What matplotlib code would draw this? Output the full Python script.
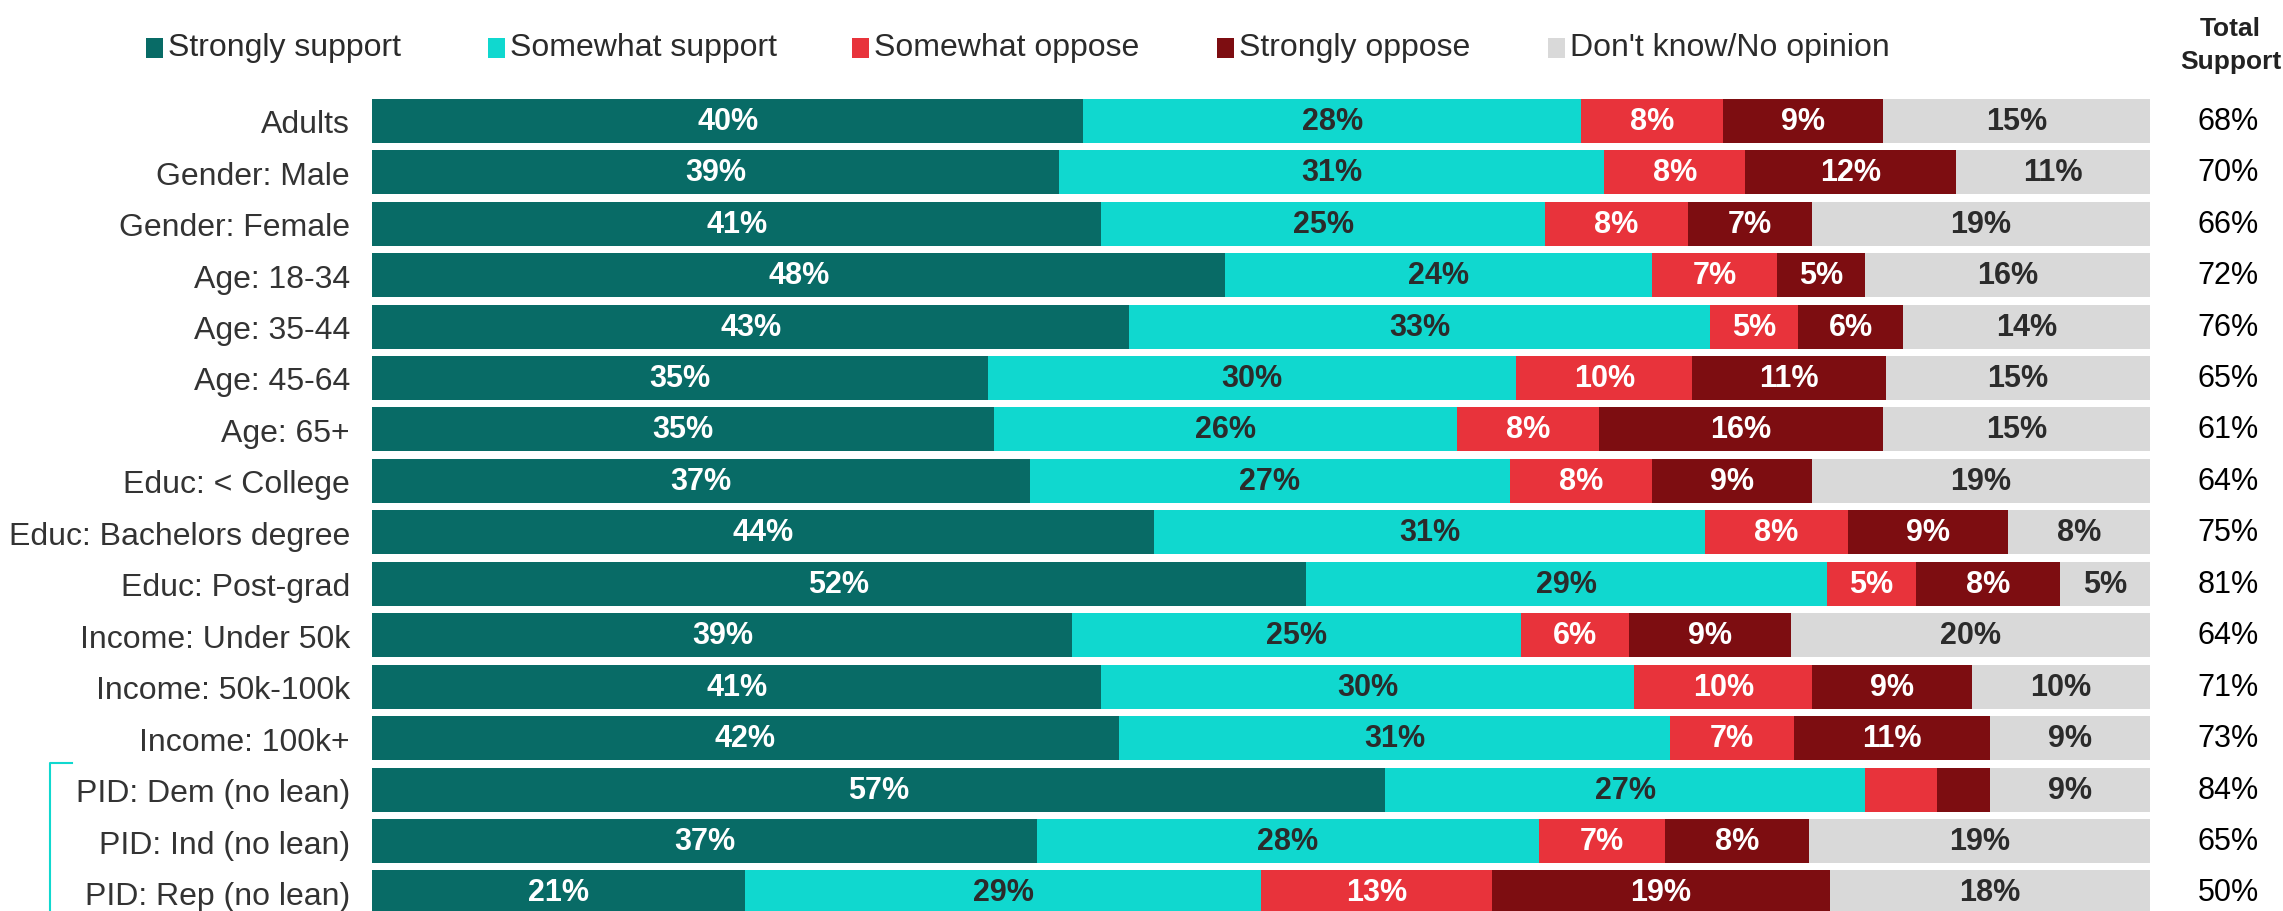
import matplotlib.pyplot as plt
import matplotlib.transforms as mtransforms
from matplotlib.patches import Rectangle
import numpy as np

groups = ['Adults', 'Gender: Male', 'Gender: Female', 'Age: 18-34', 'Age: 35-44',
          'Age: 45-64', 'Age: 65+', 'Educ: < College', 'Educ: Bachelors degree',
          'Educ: Post-grad', 'Income: Under 50k', 'Income: 50k-100k', 'Income: 100k+',
          'PID: Dem (no lean)', 'PID: Ind (no lean)', 'PID: Rep (no lean)']

strongly_support = [40, 39, 41, 48, 43, 35, 35, 37, 44, 52, 39, 41, 42, 57, 37, 21]
somewhat_support = [28, 31, 25, 24, 33, 30, 26, 27, 31, 29, 25, 30, 31, 27, 28, 29]
somewhat_oppose = [8, 8, 8, 7, 5, 10, 8, 8, 8, 5, 6, 10, 7, 4, 7, 13]
strongly_oppose = [9, 12, 7, 5, 6, 11, 16, 9, 9, 8, 9, 9, 11, 3, 8, 19]
no_opinion = [15, 11, 19, 16, 14, 15, 15, 19, 8, 5, 20, 10, 9, 9, 19, 18]
total_support = [68, 70, 66, 72, 76, 65, 61, 64, 75, 81, 64, 71, 73, 84, 65, 50]

series_names = ['Strongly support', 'Somewhat support', 'Somewhat oppose',
                'Strongly oppose', "Don't know/No opinion"]
colors = ['#086b66', '#10d8cf', '#e8333b', '#7d0d11', '#d9d9d9']
text_colors = ['white', '#2b2b2b', 'white', 'white', '#2b2b2b']

plt.rcParams['font.family'] = ['Liberation Sans', 'DejaVu Sans']

data = np.array([strongly_support, somewhat_support, somewhat_oppose,
                 strongly_oppose, no_opinion], dtype=float)
# bars all fill the full width, so scale each row to 100
scaled = data / data.sum(axis=0) * 100

fig = plt.figure(figsize=(22.83, 9.12), dpi=100)
ax = fig.add_axes([0.163, 0.0, 0.7787, 0.8947])

y = np.arange(len(groups))
left = np.zeros(len(groups))
for j in range(len(series_names)):
    ax.barh(y, scaled[j], left=left, height=0.855, color=colors[j], linewidth=0)
    for i in range(len(groups)):
        if data[j, i] >= 5:
            ax.text(left[i] + scaled[j, i] / 2, y[i], f'{int(data[j, i])}%',
                    ha='center', va='center', fontsize=22, fontweight='bold',
                    color=text_colors[j])
    left += scaled[j]

ax.set_xlim(0, 100)
ax.set_ylim(15.36, -0.5)
ax.set_yticks(y)
ax.set_yticklabels(groups, fontsize=23, color='#333333')
ax.tick_params(axis='y', length=0, pad=16)
ax.set_xticks([])
for s in ax.spines.values():
    s.set_visible(False)

# total support column
trans = mtransforms.blended_transform_factory(fig.transFigure, ax.transData)
for i, v in enumerate(total_support):
    ax.text(0.976, y[i], f'{v}%', transform=trans, ha='center', va='center',
            fontsize=22, color='black', clip_on=False)
fig.text(0.977, 0.968, 'Total', ha='center', va='center', fontsize=19,
         fontweight='bold', color='#222222')
fig.text(0.977, 0.932, 'Support', ha='center', va='center', fontsize=19,
         fontweight='bold', color='#222222')

# legend drawn by hand
leg_x = [146, 488, 852, 1217, 1548]
for j, name in enumerate(series_names):
    x0 = leg_x[j] / 2283
    fig.patches.append(Rectangle((x0, 0.935), 17 / 2283, 20 / 912, transform=fig.transFigure,
                                 facecolor=colors[j], edgecolor='none'))
    fig.text(x0 + 22 / 2283, 0.947, name, ha='left', va='center', fontsize=23,
             color='#2b2b2b')

# bracket by the party rows
ax.plot([0.0315, 0.0219, 0.0219], [12.48, 12.48, 15.6], transform=trans,
        color='#10d8cf', linewidth=1.5, clip_on=False)

fig.savefig('out.png', dpi=100)
